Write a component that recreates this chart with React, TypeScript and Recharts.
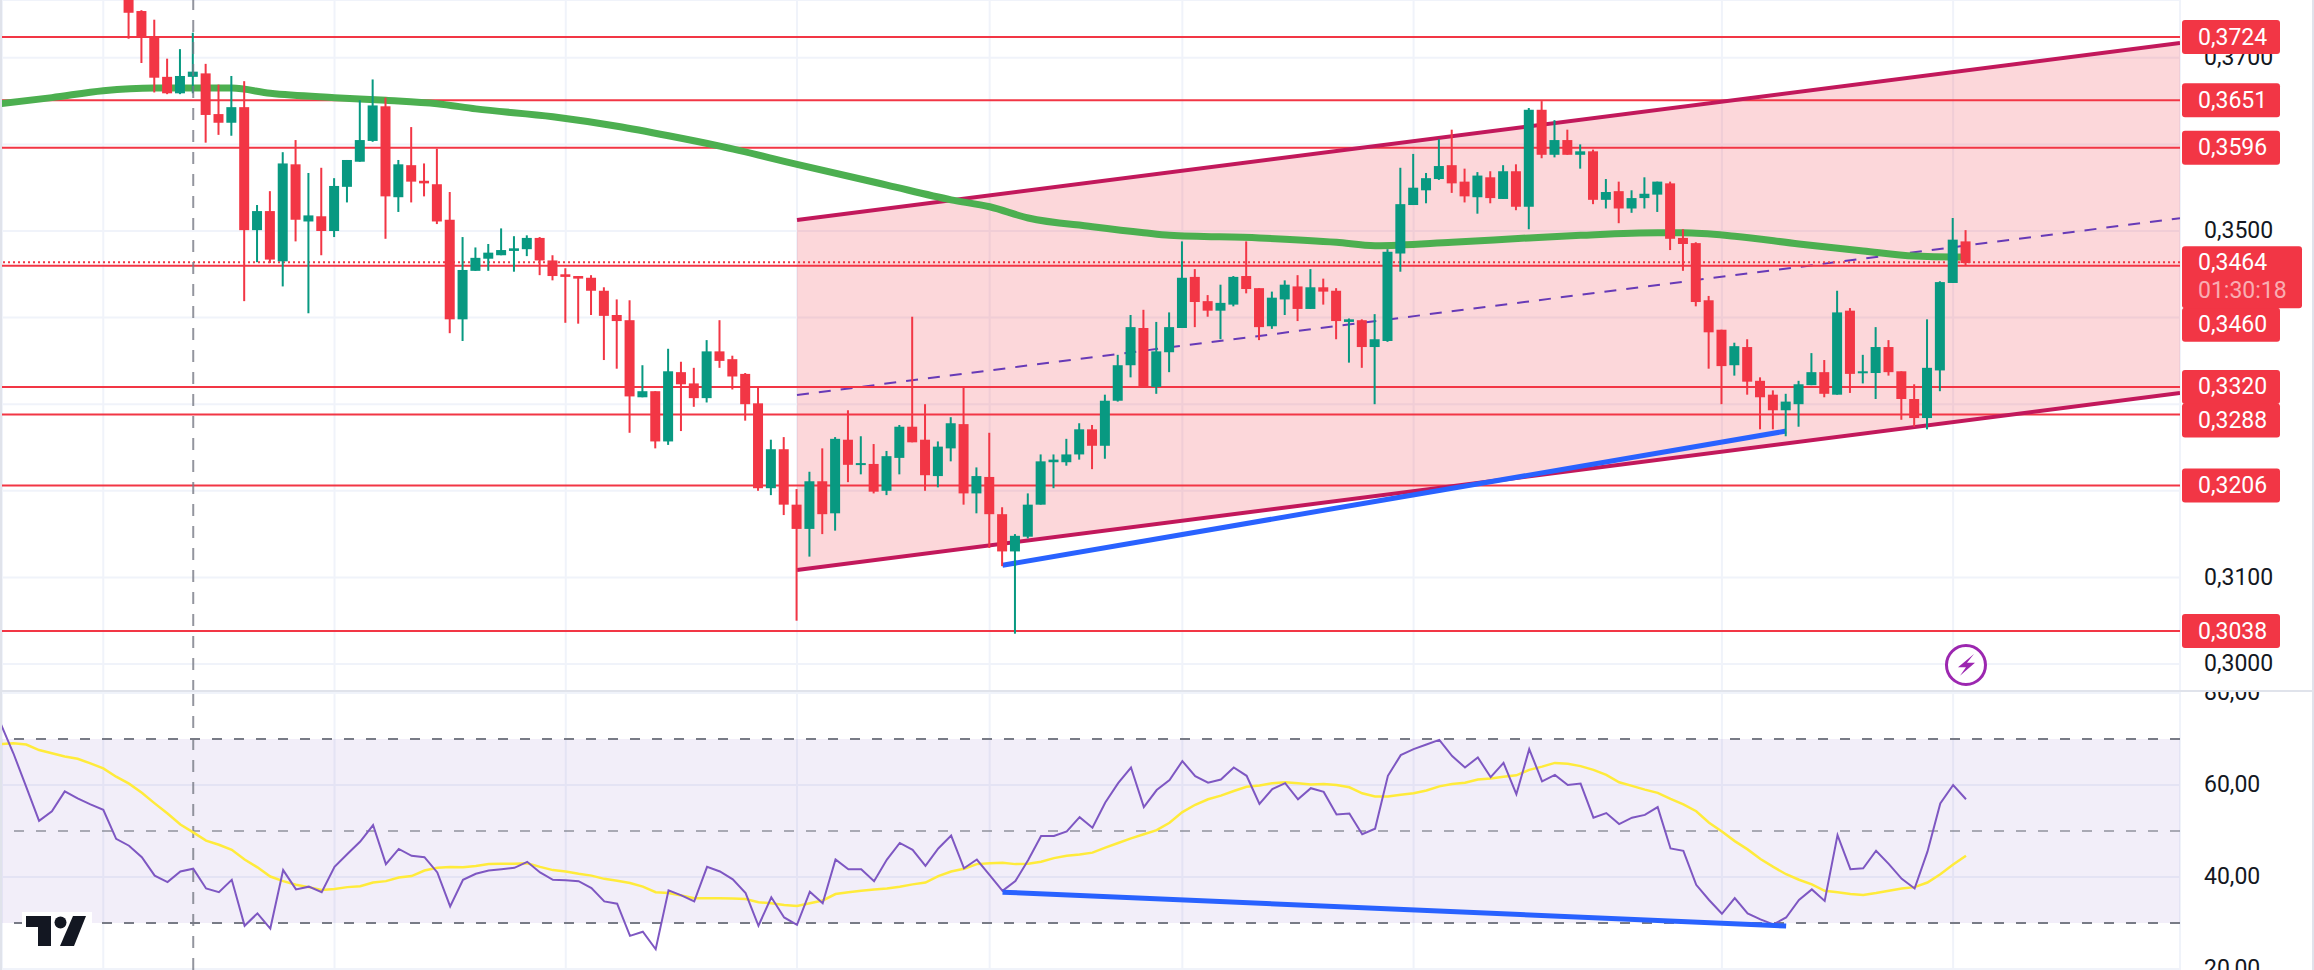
/**
 * Price chart with rising channel, support/resistance levels and an RSI pane
 */

import React from "react";
import {
  Area,
  Bar,
  CartesianGrid,
  ComposedChart,
  Line,
  ReferenceArea,
  ReferenceDot,
  ReferenceLine,
  XAxis,
  YAxis,
} from "recharts";

// Candles, one value per bar
const opens = [
  0.3772, 0.3754, 0.3724, 0.3678, 0.3659, 0.3678, 0.3682, 0.3635, 0.3625, 0.3643,
  0.3501, 0.3523, 0.3465, 0.3577, 0.3511, 0.3517, 0.35, 0.3551, 0.358, 0.3604,
  0.3644, 0.3539, 0.3576, 0.3558, 0.3554, 0.3513, 0.3398, 0.3454, 0.3468, 0.3472,
  0.3477, 0.3479, 0.3492, 0.3466, 0.345, 0.3448, 0.3446, 0.3431, 0.3403, 0.3397,
  0.3308, 0.3315, 0.3257, 0.3337, 0.3324, 0.3307, 0.3361, 0.3352, 0.3335, 0.3301,
  0.3203, 0.3248, 0.3184, 0.3156, 0.3211, 0.3174, 0.3259, 0.323, 0.3231, 0.32,
  0.3238, 0.3274, 0.3259, 0.3217, 0.3249, 0.3277, 0.3197, 0.3216, 0.3173, 0.313,
  0.3147, 0.3184, 0.3233, 0.3233, 0.3242, 0.3271, 0.3252, 0.3304, 0.3345, 0.3388,
  0.332, 0.336, 0.3388, 0.3447, 0.3419, 0.3408, 0.3415, 0.3448, 0.3434, 0.339,
  0.3421, 0.3436, 0.341, 0.3435, 0.3431, 0.3395, 0.3397, 0.3366, 0.3373, 0.3474,
  0.353, 0.3547, 0.356, 0.3576, 0.3557, 0.3539, 0.3562, 0.3537, 0.3569, 0.3528,
  0.364, 0.3588, 0.3605, 0.3588, 0.3592, 0.3536, 0.3546, 0.3526, 0.3538, 0.3542,
  0.3555, 0.3492, 0.3486, 0.342, 0.3386, 0.3345, 0.3366, 0.3327, 0.3311, 0.3293,
  0.33, 0.3322, 0.3337, 0.3311, 0.3408, 0.3336, 0.3336, 0.3366, 0.3338, 0.3306,
  0.3284, 0.3339, 0.344, 0.3488,
];
const closes = [
  0.3752, 0.3724, 0.3677, 0.3659, 0.3679, 0.3684, 0.3634, 0.3625, 0.3643, 0.3501,
  0.3523, 0.3467, 0.3578, 0.3513, 0.3518, 0.35, 0.3552, 0.3582, 0.3605, 0.3645,
  0.354, 0.3577, 0.3557, 0.3555, 0.3511, 0.3398, 0.3455, 0.3469, 0.3475, 0.3478,
  0.348, 0.3492, 0.3466, 0.3448, 0.3447, 0.3445, 0.3431, 0.3402, 0.3396, 0.3309,
  0.3315, 0.3257, 0.3338, 0.3323, 0.3307, 0.3361, 0.335, 0.3332, 0.33, 0.3203,
  0.3248, 0.3184, 0.3156, 0.3211, 0.3173, 0.326, 0.323, 0.3232, 0.3199, 0.324,
  0.3274, 0.3256, 0.3218, 0.3251, 0.3278, 0.3197, 0.3217, 0.3173, 0.313, 0.3148,
  0.3184, 0.3234, 0.3236, 0.3242, 0.3271, 0.3252, 0.3304, 0.3345, 0.3389, 0.332,
  0.3361, 0.3389, 0.3446, 0.3418, 0.3408, 0.3417, 0.3447, 0.3433, 0.3389, 0.3423,
  0.3438, 0.341, 0.3435, 0.343, 0.3396, 0.3398, 0.3366, 0.3375, 0.3476, 0.3531,
  0.355, 0.3561, 0.3575, 0.3555, 0.354, 0.3564, 0.3538, 0.3569, 0.3528, 0.364,
  0.3588, 0.3605, 0.3588, 0.3592, 0.3536, 0.3545, 0.3526, 0.3538, 0.3543, 0.3557,
  0.3491, 0.3485, 0.3418, 0.3383, 0.3344, 0.3367, 0.3326, 0.3308, 0.3293, 0.3303,
  0.3323, 0.3337, 0.3312, 0.3406, 0.3335, 0.3338, 0.3366, 0.3337, 0.3306, 0.3284,
  0.3342, 0.3441, 0.349, 0.3463,
];
const highs = [
  0.3778, 0.3755, 0.3744, 0.3699, 0.371, 0.3729, 0.3693, 0.3669, 0.3679, 0.3673,
  0.353, 0.3546, 0.3591, 0.3605, 0.3567, 0.3573, 0.3561, 0.3582, 0.3651, 0.3675,
  0.3654, 0.3582, 0.362, 0.3578, 0.3595, 0.3545, 0.3493, 0.3481, 0.3485, 0.3503,
  0.3494, 0.3495, 0.3493, 0.3472, 0.3457, 0.3448, 0.3449, 0.3435, 0.3421, 0.342,
  0.3345, 0.3315, 0.3364, 0.3349, 0.3342, 0.3374, 0.3397, 0.3356, 0.3336, 0.3319,
  0.3259, 0.3262, 0.3202, 0.3222, 0.3249, 0.3262, 0.3293, 0.3263, 0.3254, 0.3246,
  0.3276, 0.3401, 0.33, 0.3257, 0.3285, 0.332, 0.3227, 0.3267, 0.3181, 0.315,
  0.3197, 0.3242, 0.3242, 0.326, 0.3278, 0.3276, 0.3311, 0.3357, 0.3403, 0.3409,
  0.3395, 0.3406, 0.3488, 0.3456, 0.3426, 0.3438, 0.3448, 0.3488, 0.3434, 0.343,
  0.3443, 0.3449, 0.3456, 0.3445, 0.3434, 0.3399, 0.3398, 0.3404, 0.3479, 0.3573,
  0.3589, 0.3567, 0.3606, 0.3617, 0.3572, 0.3568, 0.3569, 0.3576, 0.3577, 0.3642,
  0.365, 0.3628, 0.3617, 0.36, 0.3594, 0.356, 0.3557, 0.3547, 0.3562, 0.3557,
  0.3557, 0.3502, 0.3487, 0.3425, 0.3386, 0.3371, 0.3375, 0.3331, 0.3316, 0.3312,
  0.3327, 0.3359, 0.3351, 0.3431, 0.3411, 0.3357, 0.3389, 0.3374, 0.3338, 0.3323,
  0.3398, 0.3442, 0.3515, 0.3501,
];
const lows = [
  0.3722, 0.3694, 0.366, 0.3658, 0.3658, 0.3659, 0.3602, 0.3611, 0.361, 0.3419,
  0.3464, 0.3463, 0.3436, 0.3488, 0.3405, 0.3472, 0.3493, 0.3533, 0.358, 0.3603,
  0.3491, 0.3522, 0.3533, 0.354, 0.3508, 0.3382, 0.3373, 0.3454, 0.3454, 0.3472,
  0.3453, 0.3471, 0.3449, 0.3443, 0.3394, 0.3393, 0.3403, 0.3351, 0.3341, 0.3267,
  0.3308, 0.3249, 0.3253, 0.3269, 0.3297, 0.3302, 0.3342, 0.3317, 0.3281, 0.32,
  0.3195, 0.3172, 0.305, 0.3124, 0.315, 0.3154, 0.321, 0.3219, 0.3197, 0.3195,
  0.3219, 0.3256, 0.32, 0.3204, 0.3234, 0.3184, 0.3174, 0.3134, 0.3113, 0.3035,
  0.3145, 0.3184, 0.3203, 0.3229, 0.3236, 0.3225, 0.3237, 0.3303, 0.3331, 0.332,
  0.3312, 0.3337, 0.3388, 0.3389, 0.3401, 0.3375, 0.3413, 0.3428, 0.3374, 0.3387,
  0.3403, 0.3396, 0.341, 0.3415, 0.3375, 0.3348, 0.3342, 0.33, 0.3372, 0.3453,
  0.353, 0.3532, 0.3559, 0.3544, 0.3533, 0.352, 0.3532, 0.3537, 0.3524, 0.3502,
  0.3584, 0.3585, 0.3588, 0.3572, 0.3531, 0.3526, 0.3509, 0.3521, 0.3526, 0.3522,
  0.3478, 0.3454, 0.3413, 0.3341, 0.33, 0.3333, 0.3311, 0.3271, 0.3271, 0.3263,
  0.3274, 0.3322, 0.3308, 0.3311, 0.3313, 0.3324, 0.3306, 0.3333, 0.3282, 0.3274,
  0.3271, 0.3315, 0.344, 0.346,
];

// Moving average, read at every few bars
const maBars = [
  -10, -6, -2, 2, 8, 11, 16, 20, 24, 27, 33, 38, 42, 46, 52, 59, 64, 67, 70, 75, 79, 81,
  88, 94, 97, 103, 109, 113, 119, 121, 125, 130, 135, 139, 142, 143,
];
const maValues = [
  0.3647, 0.3654, 0.3662, 0.3665, 0.3665, 0.3659, 0.3654, 0.3651, 0.3647, 0.3641, 0.3632,
  0.3621, 0.361, 0.3598, 0.3577, 0.3553, 0.3536, 0.3528, 0.3515, 0.3505, 0.3498, 0.3495,
  0.3492, 0.3487, 0.3483, 0.3487, 0.3492, 0.3495, 0.3498, 0.3498, 0.3494, 0.3485, 0.3477,
  0.3471, 0.347, 0.347,
];

// Channel and trend line drawings
const channelBars = [52, 159.66];
const channelUpper = [0.35127, 0.3717];
const channelMiddle = [0.33106, 0.35148];
const channelLower = [0.31085, 0.33129];
const trendBars = [68, 129];
const priceTrend = [0.3114, 0.3269];
const rsiTrend = [36.7, 29.35];

// Horizontal levels
const levels = [0.3724, 0.3651, 0.3596, 0.346, 0.332, 0.3288, 0.3206, 0.3038];
const lastPrice = 0.3464;
const countdown = "01:30:18";
const priceTicks = [0.3, 0.31, 0.32, 0.33, 0.34, 0.35, 0.36, 0.37];
// These sit fully behind a level tag, only their grid line shows
const coveredPriceTicks = [0.32, 0.33, 0.34, 0.36];
const rsiTicks = [20, 40, 60, 80];
const timeGridBars = [-2, 16, 34, 52, 67, 82, 100, 124, 142];
const crosshairBar = 5;
const alertBar = 143;
const alertPrice = 0.3;

// RSI starts 10 bars before the first visible candle
const rsiFirstBar = -10;
const rsiValues = [
  73.4, 66.9, 59.6, 52.2, 54.3, 58.6, 57.1, 55.8, 54.6, 48.3,
  46.8, 44.3, 40.3, 38.9, 41.2, 41.8, 37.5, 36.7, 39.4, 29.4,
  32.1, 28.8, 41.5, 37.3, 37.9, 36.7, 42.2, 45.0, 47.7, 51.3,
  42.8, 46.1, 44.6, 44.3, 41.0, 33.6, 39.4, 40.7, 41.4, 41.7,
  42.0, 43.3, 41.0, 39.4, 39.3, 39.1, 37.6, 34.7, 34.2, 27.2,
  28.1, 24.3, 37.1, 36.0, 34.7, 42.2, 41.2, 39.5, 36.5, 29.4,
  35.6, 31.2, 29.6, 36.8, 34.3, 43.8, 41.7, 41.7, 39.1, 43.8,
  47.4, 45.9, 42.4, 46.2, 49.0, 41.9, 43.8, 40.4, 37.0, 39.1,
  43.7, 48.9, 48.9, 49.9, 53.0, 50.7, 56.2, 60.4, 63.8, 55.2,
  58.9, 61.1, 65.2, 61.9, 60.5, 61.2, 63.8, 62.0, 55.9, 59.1,
  60.4, 56.9, 59.3, 58.5, 53.6, 53.8, 49.3, 50.5, 62.0, 66.5,
  67.8, 68.8, 69.8, 66.3, 63.8, 66.0, 61.7, 64.8, 58.0, 67.8,
  60.8, 62.2, 60.0, 60.3, 52.9, 53.9, 51.5, 52.9, 53.5, 55.2,
  46.2, 45.7, 38.3, 35.0, 32.0, 35.4, 32.1, 30.8, 29.7, 31.2,
  35.0, 37.3, 34.8, 49.1, 41.7, 41.9, 45.7, 42.8, 39.6, 37.5,
  45.5, 56.0, 60.0, 56.9,
];
const rsiSmaValues = [
  68.9, 69.1, 68.8, 67.6, 66.9, 66.2, 65.7, 64.7, 63.6, 61.8,
  60.3, 58.3, 56.0, 53.8, 51.4, 49.7, 47.9, 47.0, 45.9, 43.8,
  42.1, 40.1, 39.1, 38.3, 37.8, 37.2, 37.4, 37.8, 38.0, 38.8,
  39.1, 39.9, 40.2, 41.4, 42.0, 42.2, 42.1, 42.4, 42.8, 42.9,
  42.9, 43.0, 42.2, 41.5, 41.2, 40.7, 40.3, 39.6, 39.2, 38.7,
  37.9, 36.7, 36.5, 36.0, 35.4, 35.4, 35.4, 35.3, 35.2, 34.5,
  34.3, 33.9, 33.7, 34.3, 34.9, 36.3, 36.7, 37.0, 37.3, 37.5,
  37.9, 38.4, 38.8, 40.2, 41.2, 41.8, 42.8, 43.0, 43.1, 42.8,
  42.9, 43.3, 44.1, 44.6, 44.9, 45.3, 46.4, 47.4, 48.4, 49.3,
  50.2, 51.8, 54.1, 55.7, 56.9, 57.7, 58.7, 59.6, 59.9, 60.4,
  60.6, 60.4, 60.1, 60.2, 60.0, 59.5, 58.2, 57.5, 57.5, 57.9,
  58.2, 58.8, 59.7, 60.2, 60.5, 61.2, 61.4, 61.8, 62.1, 63.3,
  64.0, 64.8, 64.6, 64.1, 63.3, 62.2, 60.6, 59.8, 59.0, 58.3,
  57.0, 55.8, 54.3, 51.8, 49.9, 47.8, 46.0, 43.9, 42.2, 40.6,
  39.4, 38.4, 37.0, 36.7, 36.3, 36.1, 36.5, 37.0, 37.5, 37.8,
  38.8, 40.6, 42.7, 44.6,
];

const candleRows = opens.map((open, k) => ({
  bar: k,
  open,
  close: closes[k],
  high: highs[k],
  low: lows[k],
  range: [lows[k], highs[k]],
}));
const maRows = maBars.map((bar, k) => ({ bar, ma: maValues[k] }));
const channelRows = channelBars.map((bar, k) => ({
  bar,
  upper: channelUpper[k],
  middle: channelMiddle[k],
  lower: channelLower[k],
  band: [channelLower[k], channelUpper[k]],
}));
const priceTrendRows = trendBars.map((bar, k) => ({ bar, value: priceTrend[k] }));
const rsiTrendRows = trendBars.map((bar, k) => ({ bar, value: rsiTrend[k] }));
const rsiRows = rsiValues.map((rsi, k) => ({
  bar: rsiFirstBar + k,
  rsi,
  sma: rsiSmaValues[k],
}));

const WIDTH = 2314;
const HEIGHT = 970;
const PRICE_HEIGHT = 692;
const AXIS_WIDTH = 134;
const BAR_DOMAIN = [-9.886, 159.66];
const PRICE_DOMAIN = [0.296767, 0.376674];
const RSI_DOMAIN = [19.783, 80.217];

const UP = "#089981";
const DOWN = "#f23645";
const GRID = "#f0f3fa";
const BORDER = "#e0e3eb";
const TEXT = "#131722";
const FONT = "Roboto, sans-serif";
const FONT_SIZE = 23;
const TICK_STYLE = { fill: TEXT, fontSize: FONT_SIZE, fontFamily: FONT, dy: -1 };

// Distance of a tag from its line where tags would otherwise collide
const tagShift: Record<number, number> = { 0.346: 59, 0.3288: 6 };

const priceLabel = (v: number) => v.toFixed(4).replace(".", ",");
const priceTickLabel = (v: number) => (coveredPriceTicks.includes(v) ? "" : priceLabel(v));
const rsiLabel = (v: number) => v.toFixed(2).replace(".", ",");

function Candle(props: any) {
  const { x, y, width, height, payload } = props;
  const top = Math.min(y, y + height);
  const span = Math.abs(height);
  const perUnit = span / (payload.high - payload.low);
  const bodyTop = top + (payload.high - Math.max(payload.open, payload.close)) * perUnit;
  const bodyHeight = Math.abs(payload.open - payload.close) * perUnit;
  const color = payload.close >= payload.open ? UP : DOWN;
  return (
    <g>
      <rect x={x + width / 2 - 1} y={top} width={2} height={span} fill={color} />
      <rect x={x} y={bodyTop} width={width} height={Math.max(bodyHeight, 2)} fill={color} />
    </g>
  );
}

function LevelTag(props: any) {
  const { viewBox, value } = props;
  const cy = viewBox.y + (tagShift[value] || 0);
  const left = viewBox.x + viewBox.width + 2;
  return (
    <g>
      <rect x={left} y={cy - 17} width={98} height={34} rx={3} fill={DOWN} />
      <text
        x={left + 16}
        y={cy}
        dominantBaseline="central"
        fill="#ffffff"
        fontFamily={FONT}
        fontSize={FONT_SIZE}
      >
        {priceLabel(value)}
      </text>
    </g>
  );
}

function LastPriceTag(props: any) {
  const { viewBox } = props;
  const left = viewBox.x + viewBox.width + 2;
  return (
    <g fontFamily={FONT} fontSize={FONT_SIZE}>
      <rect x={left} y={viewBox.y - 16} width={120} height={62} rx={3} fill={DOWN} />
      <text x={left + 16} y={viewBox.y} dominantBaseline="central" fill="#ffffff">
        {priceLabel(lastPrice)}
      </text>
      <text
        x={left + 16}
        y={viewBox.y + 28}
        dominantBaseline="central"
        fill="#ffffff"
        fillOpacity={0.6}
      >
        {countdown}
      </text>
    </g>
  );
}

function BoltMarker(props: any) {
  const { cx, cy } = props;
  return (
    <g transform={`translate(${cx} ${cy + 1})`}>
      <circle r={19.5} fill="#ffffff" stroke="#9c27b0" strokeWidth={3} />
      <path d="M8 -11 L-8 2.3 L0 2.3 L-6 10.7 L9 -2.3 L1 -2.3 Z" fill="#9c27b0" />
    </g>
  );
}

// Grid, axis, channel, moving average and levels: everything under the candles
function PriceBase() {
  return (
    <ComposedChart
      width={WIDTH}
      height={PRICE_HEIGHT}
      margin={{ top: 0, right: 0, bottom: 0, left: 2 }}
    >
      <CartesianGrid stroke={GRID} strokeWidth={2} />
      <XAxis
        dataKey="bar"
        type="number"
        hide
        domain={BAR_DOMAIN}
        allowDataOverflow
        ticks={timeGridBars}
      />
      <YAxis
        orientation="right"
        width={AXIS_WIDTH}
        domain={PRICE_DOMAIN}
        allowDataOverflow
        ticks={priceTicks}
        interval={0}
        axisLine={false}
        tickLine={false}
        tickMargin={18}
        tick={TICK_STYLE}
        tickFormatter={priceTickLabel}
      />
      <Area
        data={channelRows}
        dataKey="band"
        type="linear"
        stroke="none"
        fill={DOWN}
        fillOpacity={0.2}
        isAnimationActive={false}
      />
      <Line
        data={channelRows}
        dataKey="middle"
        type="linear"
        stroke="#673ab7"
        strokeWidth={2}
        strokeDasharray="12 10"
        dot={false}
        isAnimationActive={false}
      />
      {levels.map((level) => (
        <ReferenceLine key={level} y={level} stroke={DOWN} strokeWidth={2} />
      ))}
      <ReferenceLine y={lastPrice} stroke={DOWN} strokeWidth={2} strokeDasharray="2 3" />
      <Line
        data={channelRows}
        dataKey="upper"
        type="linear"
        stroke="#c2185b"
        strokeWidth={4}
        dot={false}
        isAnimationActive={false}
      />
      <Line
        data={channelRows}
        dataKey="lower"
        type="linear"
        stroke="#c2185b"
        strokeWidth={4}
        dot={false}
        isAnimationActive={false}
      />
      <Line
        data={maRows}
        dataKey="ma"
        type="monotone"
        stroke="#4caf50"
        strokeWidth={7}
        dot={false}
        isAnimationActive={false}
      />
      <Line
        data={priceTrendRows}
        dataKey="value"
        type="linear"
        stroke="#2962ff"
        strokeWidth={5}
        dot={false}
        isAnimationActive={false}
      />
    </ComposedChart>
  );
}

// Same scales as PriceBase, stacked over it so that the candles stay on top
function PriceOverlay({ children, data }: { children: React.ReactNode; data?: any[] }) {
  return (
    <ComposedChart
      width={WIDTH}
      height={PRICE_HEIGHT}
      data={data}
      margin={{ top: 0, right: AXIS_WIDTH, bottom: 0, left: 2 }}
    >
      <XAxis dataKey="bar" type="number" hide domain={BAR_DOMAIN} allowDataOverflow />
      <YAxis hide domain={PRICE_DOMAIN} allowDataOverflow />
      {children}
    </ComposedChart>
  );
}

function RsiPane() {
  return (
    <ComposedChart
      width={WIDTH}
      height={HEIGHT - PRICE_HEIGHT}
      data={rsiRows}
      margin={{ top: 0, right: 0, bottom: 0, left: 2 }}
    >
      <CartesianGrid stroke={GRID} strokeWidth={2} />
      <XAxis
        dataKey="bar"
        type="number"
        hide
        domain={BAR_DOMAIN}
        allowDataOverflow
        ticks={timeGridBars}
      />
      <YAxis
        orientation="right"
        width={AXIS_WIDTH}
        domain={RSI_DOMAIN}
        allowDataOverflow
        ticks={rsiTicks}
        interval={0}
        axisLine={false}
        tickLine={false}
        tickMargin={18}
        tick={TICK_STYLE}
        tickFormatter={rsiLabel}
      />
      <ReferenceArea y1={30} y2={70} fill="#7e57c2" fillOpacity={0.1} stroke="none" />
      <ReferenceLine y={70} stroke="#787b86" strokeWidth={2} strokeDasharray="10 12" />
      <ReferenceLine
        y={50}
        stroke="#787b86"
        strokeOpacity={0.6}
        strokeWidth={2}
        strokeDasharray="10 12"
      />
      <ReferenceLine y={30} stroke="#787b86" strokeWidth={2} strokeDasharray="10 12" />
      <ReferenceLine
        x={crosshairBar}
        stroke="#787b86"
        strokeOpacity={0.8}
        strokeWidth={2}
        strokeDasharray="12 10"
      />
      <Line
        dataKey="sma"
        type="linear"
        stroke="#ffeb3b"
        strokeWidth={2.5}
        dot={false}
        isAnimationActive={false}
      />
      <Line
        dataKey="rsi"
        type="linear"
        stroke="#7e57c2"
        strokeWidth={2}
        dot={false}
        isAnimationActive={false}
      />
      <Line
        data={rsiTrendRows}
        dataKey="value"
        type="linear"
        stroke="#2962ff"
        strokeWidth={5}
        dot={false}
        isAnimationActive={false}
      />
    </ComposedChart>
  );
}

function Logo() {
  return (
    <svg width={70} height={38} style={{ position: "absolute", left: 22, top: 912 }}>
      <rect width={70} height={38} fill="#ffffff" />
      <path d="M4 4 H29 V34 H16 V15 H4 Z" fill={TEXT} />
      <circle cx={38.5} cy={10.5} r={6} fill={TEXT} />
      <path d="M51 4 H64 L52 34 H38 Z" fill={TEXT} />
    </svg>
  );
}

export default function App() {
  const layer = { position: "absolute", left: 0, top: 0 } as const;
  const edge = { position: "absolute", background: BORDER } as const;
  return (
    <div
      style={{
        position: "absolute",
        left: 0,
        top: 0,
        width: WIDTH,
        height: HEIGHT,
        overflow: "hidden",
        background: "#ffffff",
      }}
    >
      <div style={layer}>
        <PriceBase />
      </div>
      <div style={layer}>
        <PriceOverlay data={candleRows}>
          <Bar
            dataKey="range"
            barSize={10}
            shape={<Candle />}
            isAnimationActive={false}
          />
          <ReferenceLine
            x={crosshairBar}
            stroke="#787b86"
            strokeOpacity={0.8}
            strokeWidth={2}
            strokeDasharray="12 10"
          />
        </PriceOverlay>
      </div>
      <div style={layer}>
        <PriceOverlay>
          {levels.map((level) => (
            <ReferenceLine
              key={level}
              y={level}
              stroke="none"
              label={<LevelTag value={level} />}
            />
          ))}
          <ReferenceLine y={lastPrice} stroke="none" label={<LastPriceTag />} />
          <ReferenceDot x={alertBar} y={alertPrice} r={20} shape={<BoltMarker />} />
        </PriceOverlay>
      </div>
      <div style={{ position: "absolute", left: 0, top: PRICE_HEIGHT }}>
        <RsiPane />
      </div>
      <div style={{ ...edge, left: 0, top: 690, width: WIDTH, height: 2 }} />
      <div style={{ ...edge, left: 0, top: 0, width: 2, height: HEIGHT }} />
      <div style={{ ...edge, left: WIDTH - 2, top: 0, width: 2, height: HEIGHT }} />
      <Logo />
    </div>
  );
}
